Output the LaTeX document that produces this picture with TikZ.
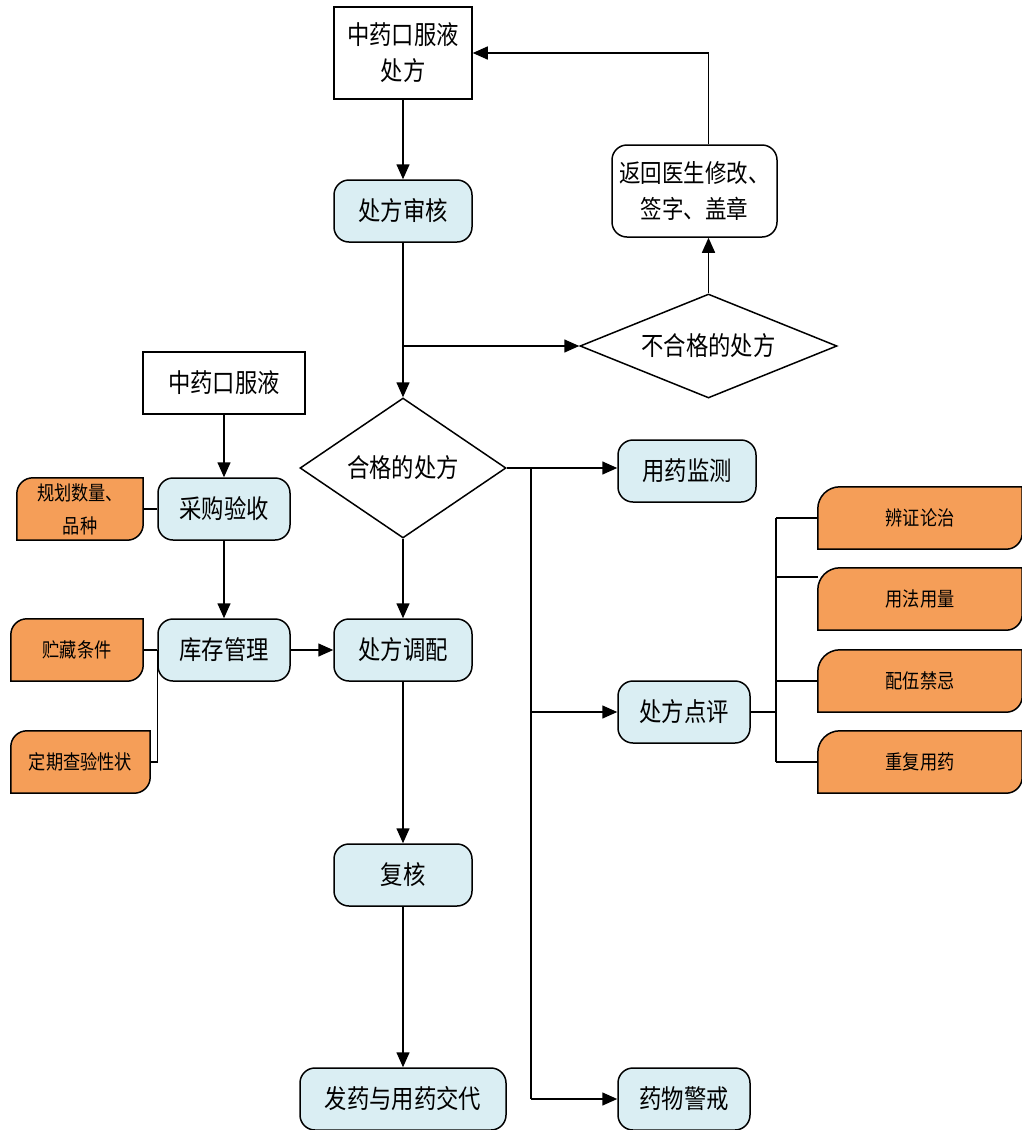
\documentclass[tikz,border=0pt]{standalone}
\usepackage{fontspec}
\newfontfamily\cjk[FakeStretch=0.86]{Noto Sans CJK SC}
\usetikzlibrary{arrows.meta,shapes.geometric,backgrounds}
\definecolor{lblue}{HTML}{DAEEF3}
\definecolor{orng}{HTML}{F59E58}
\tikzset{
  ln/.style={line width=1.5pt, draw=black},
  arr/.style={ln, -{Triangle[length=15pt,width=13pt]}},
  txt/.style={font=\cjk\fontsize{26}{36}\selectfont, align=center, inner sep=0pt},
  proc/.style={txt, draw, line width=1.5pt, rounded corners=15pt, fill=lblue},
  wproc/.style={txt, draw, line width=1.5pt, rounded corners=15pt, fill=white},
  plain/.style={txt, draw, line width=1.5pt, fill=white},
  dia/.style={txt, draw, line width=1.5pt, diamond, fill=white},
  obx/.style={font=\cjk\fontsize{20}{33}\selectfont, align=center, inner sep=0pt},
  oshape/.style={fill=orng, draw=black, line width=1.5pt}
}
\newcommand\orshape[3]{%
  \filldraw[oshape] (#1.south west) -- ([yshift=-#2]#1.north west)
    arc[start angle=180,end angle=90,radius=#2] -- (#1.north east)
    -- ([yshift=#3]#1.south east) arc[start angle=0,end angle=-90,radius=#3] -- cycle;}
\begin{document}
\begin{tikzpicture}[x=1pt,y=-1pt]
\useasboundingbox (0,0) rectangle (1022,1130);
% main column
\node[plain, minimum width=138pt, minimum height=92pt] (top) at (403,53) {中药口服液\\处方};
\node[proc, minimum width=138pt, minimum height=62pt] (shsh) at (403,211) {处方审核};
\node[wproc, minimum width=165pt, minimum height=92pt, font=\cjk\fontsize{25}{36}\selectfont] (fanhui) at (694.5,191) {返回医生修改、\\签字、盖章};
\node[dia, shape aspect=2.47, minimum width=257pt, minimum height=104pt] (buhege) at (708.5,346) {不合格的处方};
\node[dia, shape aspect=1.47, minimum width=206pt, minimum height=140pt] (hege) at (403,468) {合格的处方};
\node[proc, minimum width=138pt, minimum height=62pt] (cftp) at (403,650) {处方调配};
\node[proc, minimum width=138pt, minimum height=62pt] (fh) at (403,875) {复核};
\node[proc, minimum width=206pt, minimum height=62pt] (fy) at (403,1099) {发药与用药交代};
% left column
\node[plain, minimum width=162pt, minimum height=62pt] (zy2) at (224,383) {中药口服液};
\node[proc, minimum width=132pt, minimum height=62pt] (cgys) at (224,509) {采购验收};
\node[proc, minimum width=132pt, minimum height=62pt] (kcgl) at (224,650) {库存管理};
\node[obx, minimum width=126pt, minimum height=62pt] (ghsl) at (80,509) {规划数量、\\品种};
\node[obx, minimum width=132pt, minimum height=62pt] (zccj) at (77,650) {贮藏条件};
\node[obx, minimum width=139pt, minimum height=62pt] (dqcy) at (80.5,762) {定期查验性状};
% right column
\node[proc, minimum width=138pt, minimum height=62pt] (yyjc) at (687,471) {用药监测};
\node[proc, minimum width=132pt, minimum height=62pt] (cfdp) at (684,712) {处方点评};
\node[proc, minimum width=132pt, minimum height=62pt] (ywjj) at (684,1099) {药物警戒};
\node[obx, minimum width=204pt, minimum height=62pt] (bzlz) at (920,518) {辨证论治};
\node[obx, minimum width=204pt, minimum height=62pt] (yfyl) at (920,599) {用法用量};
\node[obx, minimum width=204pt, minimum height=62pt] (pwjj) at (920,681) {配伍禁忌};
\node[obx, minimum width=204pt, minimum height=62pt] (cfyy) at (920,762) {重复用药};
\begin{pgfonlayer}{background}
  \orshape{ghsl}{16pt}{16pt}
  \orshape{zccj}{16pt}{16pt}
  \orshape{dqcy}{16pt}{16pt}
  \orshape{bzlz}{22pt}{16pt}
  \orshape{yfyl}{22pt}{16pt}
  \orshape{pwjj}{22pt}{16pt}
  \orshape{cfyy}{22pt}{16pt}
\end{pgfonlayer}
% coordinates
\coordinate (br) at (shsh.south |- buhege.west);
\coordinate (bus) at (531,468);
\coordinate (busb) at (531,1099);
\coordinate (rbus) at (776,712);
% connectors, main
\draw[arr] (top.south) -- (shsh.north);
\draw[arr] (shsh.south) -- (hege.north);
\draw[arr] (br) -- (buhege.west);
\draw[arr] (buhege.north) -- (buhege.north |- fanhui.south);
\draw[arr] (buhege.north |- fanhui.north) |- (top.east);
\draw[arr] (hege.south) -- (cftp.north);
\draw[arr] (cftp.south) -- (fh.north);
\draw[arr] (fh.south) -- (fy.north);
% left
\draw[arr] (zy2.south) -- (cgys.north);
\draw[arr] (cgys.south) -- (kcgl.north);
\draw[arr] (kcgl.east) -- (cftp.west);
\draw[ln] (ghsl.east) -- (cgys.west);
\draw[ln] (zccj.east) -- (kcgl.west);
\draw[ln] (kcgl.west) |- (dqcy.east);
% right bus
\draw[ln] (hege.east) -- (bus) -- (busb);
\draw[arr] (bus) -- (bus -| yyjc.west);
\draw[arr] (bus |- cfdp.west) -- (cfdp.west);
\draw[arr] (busb) -- (ywjj.west);
% review bus
\draw[ln] (cfdp.east) -- (rbus);
\draw[ln] (rbus |- bzlz.west) -- (rbus |- cfyy.west);
\draw[ln] (rbus |- bzlz.west) -- (bzlz.west);
\draw[ln] (rbus |- 0,577) -- (yfyl.west |- 0,577);
\draw[ln] (rbus |- pwjj.west) -- (pwjj.west);
\draw[ln] (rbus |- cfyy.west) -- (cfyy.west);
\end{tikzpicture}
\end{document}
